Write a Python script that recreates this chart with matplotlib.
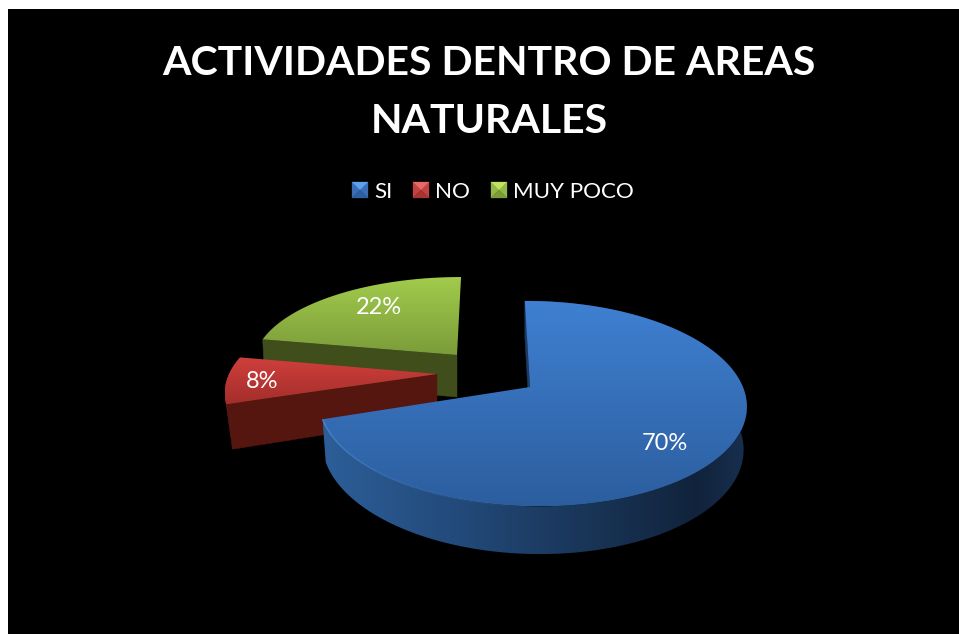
import numpy as np
import matplotlib
matplotlib.use("Agg")
import matplotlib.pyplot as plt
from matplotlib.colors import LinearSegmentedColormap, to_rgb
from matplotlib.collections import LineCollection
from matplotlib.patches import Polygon, Rectangle

# ---- data
title_lines = ["ACTIVIDADES DENTRO DE AREAS", "NATURALES"]
categories = ["SI", "NO", "MUY POCO"]
values = [70, 8, 22]

# ---- style / layout (pixels)
W, H = 959, 634
FONT = "Lato"
geom = {
    "SI":       dict(apex=(530, 387), rx=211, ry=100, k=.162, m=.009, sk=-6, depth=41.5, shrink=.985, label=(665, 443.5)),
    "NO":       dict(apex=(437, 374), rx=208, ry=92,  k=.20,  m=0, sk=0,  depth=43, shrink=.97,  label=(262, 381.5)),
    "MUY POCO": dict(apex=(457, 355), rx=202, ry=85,  k=.09,  m=0, sk=4.4, depth=42, shrink=.99, label=(379, 307.5)),
}
top_cols = {"SI": ("#3f80d2", "#2c5e9e"), "NO": ("#d03f3c", "#a32e2b"), "MUY POCO": ("#a2cb4c", "#7b9c3a")}
face_cols = {"SI": "#1c3c66", "NO": "#54160f", "MUY POCO": "#3f4e1b"}
wall_stops = {
    "SI": [(0, "#2d5e98"), (.3, "#234b7c"), (.65, "#183354"), (.88, "#11233c"), (1, "#182f4f")],
    "NO": [(0, "#6a1c16"), (1, "#4a120d")],
}
legend_pos = {"SI": (352, 374), "NO": (413, 435), "MUY POCO": (491, 513)}
legend_cols = {
    "SI": ("#5fa0ea", "#3a6fb5", "#3a6fb5", "#2f5f9f"),
    "NO": ("#e86a66", "#c24340", "#c24340", "#a83431"),
    "MUY POCO": ("#c2e362", "#94b846", "#94b846", "#7c9c39"),
}

fig = plt.figure(figsize=(W / 100, H / 100), dpi=100, facecolor="white")
ax = fig.add_axes([0, 0, 1, 1])
ax.set_axis_off()
ax.add_patch(Rectangle((8, 9), W - 8, H - 9, fc="black", ec="none", zorder=0))


def project(g, t, low=False):
    """t = clockwise angle from north in radians; unit disk -> screen with perspective."""
    x, y = np.sin(t), np.cos(t)
    f = 1 / (1 + g["k"] * y - g["m"] * x)
    sx = (g["rx"] * x + g["sk"] * y) * f
    sy = -g["ry"] * y * f
    if low:
        return g["apex"][0] + sx * g["shrink"], g["apex"][1] + sy * g["shrink"] + g["depth"] * f
    return g["apex"][0] + sx, g["apex"][1] + sy


def grad_poly(pts, colors, horizontal=False, z=1):
    pts = np.asarray(pts)
    poly = Polygon(pts, closed=True, fc="none", ec="none")
    ax.add_patch(poly)
    cmap = LinearSegmentedColormap.from_list("g", colors)
    x0, x1, y0, y1 = pts[:, 0].min(), pts[:, 0].max(), pts[:, 1].min(), pts[:, 1].max()
    ramp = np.linspace(0, 1, 256)
    arr = ramp[None, :] if horizontal else ramp[:, None]
    im = ax.imshow(arr, cmap=cmap, extent=(x0, x1, y1, y0), aspect="auto", zorder=z,
                   interpolation="bilinear", vmin=0, vmax=1)
    im.set_clip_path(poly)
    return im


total = sum(values)
edges = np.deg2rad(np.concatenate([[0], np.cumsum(values)]) * 360 / total)
z_order = {"MUY POCO": 1, "NO": 2, "SI": 3}

for i, cat in enumerate(categories):
    g = geom[cat]
    t = np.linspace(edges[i], edges[i + 1], 200)
    ztop = z_order[cat] * 10
    ux, uy = project(g, t)
    lx, ly = project(g, t, low=True)
    a = np.array(g["apex"], float)
    a_low = a + np.array([0, g["depth"]])
    # outer wall (the green slice's wall faces away from the viewer)
    if cat in wall_stops:
        grad_poly(np.r_[np.c_[ux, uy], np.c_[lx, ly][::-1]], wall_stops[cat], horizontal=True, z=ztop)
    # the one cut face that looks towards the viewer
    quad = [a, (ux[0], uy[0]), (lx[0], ly[0]), a_low]
    ax.add_patch(Polygon(quad, closed=True, fc=face_cols[cat], ec=face_cols[cat], lw=.3, zorder=ztop + 1))
    # top face
    grad_poly(np.r_[[a], np.c_[ux, uy]], top_cols[cat], z=ztop + 2)
    ax.text(*g["label"], f"{values[i]}%", color="white", fontsize=17, family=FONT,
            ha="center", va="center", zorder=60)
    if cat == "SI":
        mask = t > np.deg2rad(178)
        px, py = ux[mask], uy[mask]
        segs = np.stack([np.c_[px[:-1], py[:-1]], np.c_[px[1:], py[1:]]], axis=1)
        rgb = to_rgb("#4c8cdc")
        alphas = np.linspace(0, .9, len(segs))
        ax.add_collection(LineCollection(segs, colors=[(*rgb, al) for al in alphas], linewidths=1,
                                         zorder=ztop + 3))

# ---- legend with bevelled keys
for cat in categories:
    kx, tx = legend_pos[cat]
    s, yc = 16, 190
    l, r, t_, b = kx, kx + s, yc - s / 2, yc + s / 2
    m = (kx + s / 2, yc)
    c_top, c_left, c_right, c_bot = legend_cols[cat]
    for tri, c in [([(l, t_), (l, b), m], c_left), ([(r, t_), (r, b), m], c_right),
                   ([(l, b), (r, b), m], c_bot), ([(l, t_), (r, t_), m], c_top)]:
        ax.add_patch(Polygon(tri, closed=True, fc=c, ec=c, lw=.2, zorder=50))
    ax.text(tx, yc, cat, color="white", fontsize=16.1, family=FONT, ha="left", va="center_baseline", zorder=60)

# ---- title
for line, y in zip(title_lines, (60, 118)):
    ax.text(489, y, line, color="white", fontsize=29.5, fontweight="bold", family=FONT,
            ha="center", va="center_baseline", zorder=60)

ax.set_xlim(0, W)
ax.set_ylim(H, 0)
fig.savefig("out.png", dpi=100, facecolor="white")
